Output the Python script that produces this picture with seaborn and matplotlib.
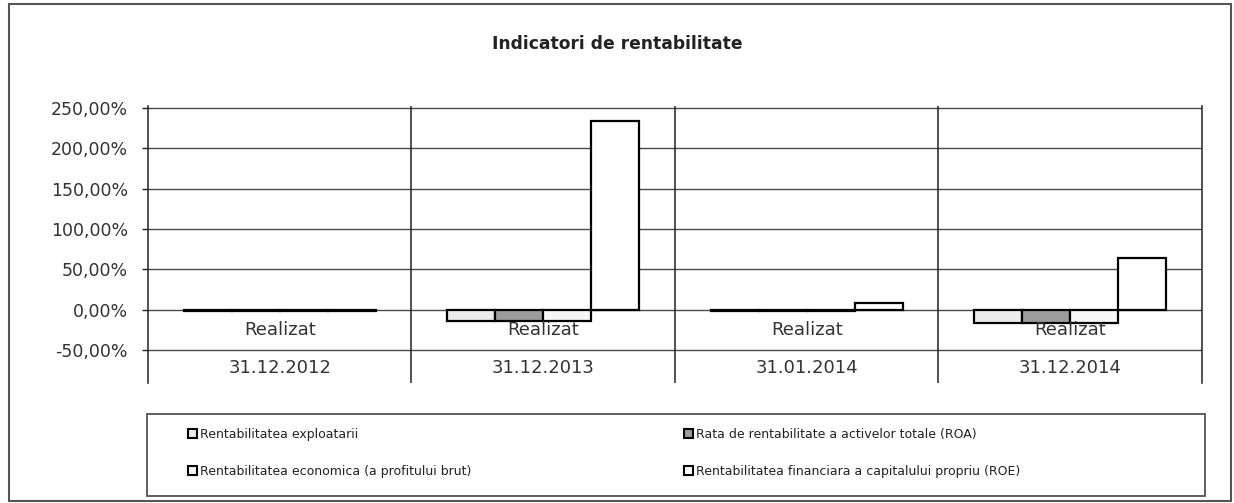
import matplotlib
matplotlib.use("Agg")
import matplotlib.pyplot as plt
import seaborn as sns
import pandas as pd
from matplotlib.patches import Patch, Rectangle
from matplotlib.ticker import FuncFormatter, FixedLocator

# ---- data ----
title = "Indicatori de rentabilitate"
dates = ["31.12.2012", "31.12.2013", "31.01.2014", "31.12.2014"]
sublabel = "Realizat"
series = [
    "Rentabilitatea exploatarii",
    "Rata de rentabilitate a activelor totale (ROA)",
    "Rentabilitatea economica (a profitului brut)",
    "Rentabilitatea financiara a capitalului propriu (ROE)",
]
rent_exploatarii = [-1.5, -14.5, -1.5, -17.0]
roa = [-1.5, -14.5, -1.5, -17.0]
rent_economica = [-1.5, -14.5, -1.5, -17.0]
roe = [-1.5, 234.0, 8.0, 64.0]
yticks = [-50, 0, 50, 100, 150, 200, 250]
colors = ["#ececec", "#9c9c9c", "#f7f7f7", "#ffffff"]

values = [rent_exploatarii, roa, rent_economica, roe]
rows = []
for s, vals in zip(series, values):
    for d, v in zip(dates, vals):
        rows.append({"date": d, "series": s, "value": v})
df = pd.DataFrame(rows)

sns.set_theme(style="white")
plt.rcParams["font.family"] = ["DejaVu Sans"]

fig = plt.figure(figsize=(12.34, 5.03), dpi=100)
ax = fig.add_axes([0.1199, 0.2386, 0.8541, 0.5507])

gridc = "#4a4a4a"
txtc = "#333333"

ax.set_ylim(-91, 252.5)
ax.yaxis.set_major_locator(FixedLocator(yticks))
for t in yticks:
    ax.axhline(t, color=gridc, lw=1.0, zorder=0)

sns.barplot(data=df, x="date", y="value", hue="series", order=dates,
            hue_order=series, palette=colors, edgecolor="black",
            linewidth=1.6, width=0.73, ax=ax, legend=False, zorder=3)

ax.set_xlim(-0.5, len(dates) - 0.5)
for xb in [0.5, 1.5, 2.5]:
    ax.axvline(xb, color="#222222", lw=1.1, zorder=1)

for s in ["top", "bottom"]:
    ax.spines[s].set_visible(False)
for s in ["left", "right"]:
    ax.spines[s].set_color("#222222")
    ax.spines[s].set_linewidth(1.1)

ax.yaxis.set_major_formatter(FuncFormatter(lambda v, p: f"{v:.2f}%".replace(".", ",")))
ax.tick_params(axis="y", left=True, length=4.5, width=1.0, color="#222222",
               labelsize=12.5, labelcolor=txtc, pad=10)
ax.set_xticks([])
ax.set_xlabel("")
ax.set_ylabel("")

for i, d in enumerate(dates):
    ax.text(i, -25, sublabel, ha="center", va="center", fontsize=13, color=txtc)
    ax.text(i, -72, d, ha="center", va="center", fontsize=13, color=txtc)

fig.text(0.5, 1 - 44 / 503, title, ha="center", va="center", fontsize=12.3,
         fontweight="bold", color="#222222")

# legend box
fig.patches.append(Rectangle((147 / 1234, 1 - 496 / 503), (1205 - 147) / 1234, 82 / 503,
                             transform=fig.transFigure, fill=False,
                             edgecolor="#444444", lw=1.2))
# outer frame
fig.patches.append(Rectangle((9 / 1234, 1 - 501 / 503), (1231 - 9) / 1234, 497 / 503,
                             transform=fig.transFigure, fill=False,
                             edgecolor="#555555", lw=1.5))

handles = [Patch(facecolor=c, edgecolor="black", lw=1.5, label=s)
           for c, s in zip(colors, series)]
common = dict(frameon=False, fontsize=9, handlelength=0.75, handleheight=0.75,
              handletextpad=0.25, labelspacing=1.9, loc="upper left",
              borderaxespad=0, borderpad=0)
leg1 = fig.legend(handles=[handles[0], handles[2]], bbox_to_anchor=(188 / 1234, 1 - 428 / 503), **common)
leg2 = fig.legend(handles=[handles[1], handles[3]], bbox_to_anchor=(684 / 1234, 1 - 428 / 503), **common)
for lg in (leg1, leg2):
    for t in lg.get_texts():
        t.set_color("#222222")

fig.savefig("out.png", dpi=100)
